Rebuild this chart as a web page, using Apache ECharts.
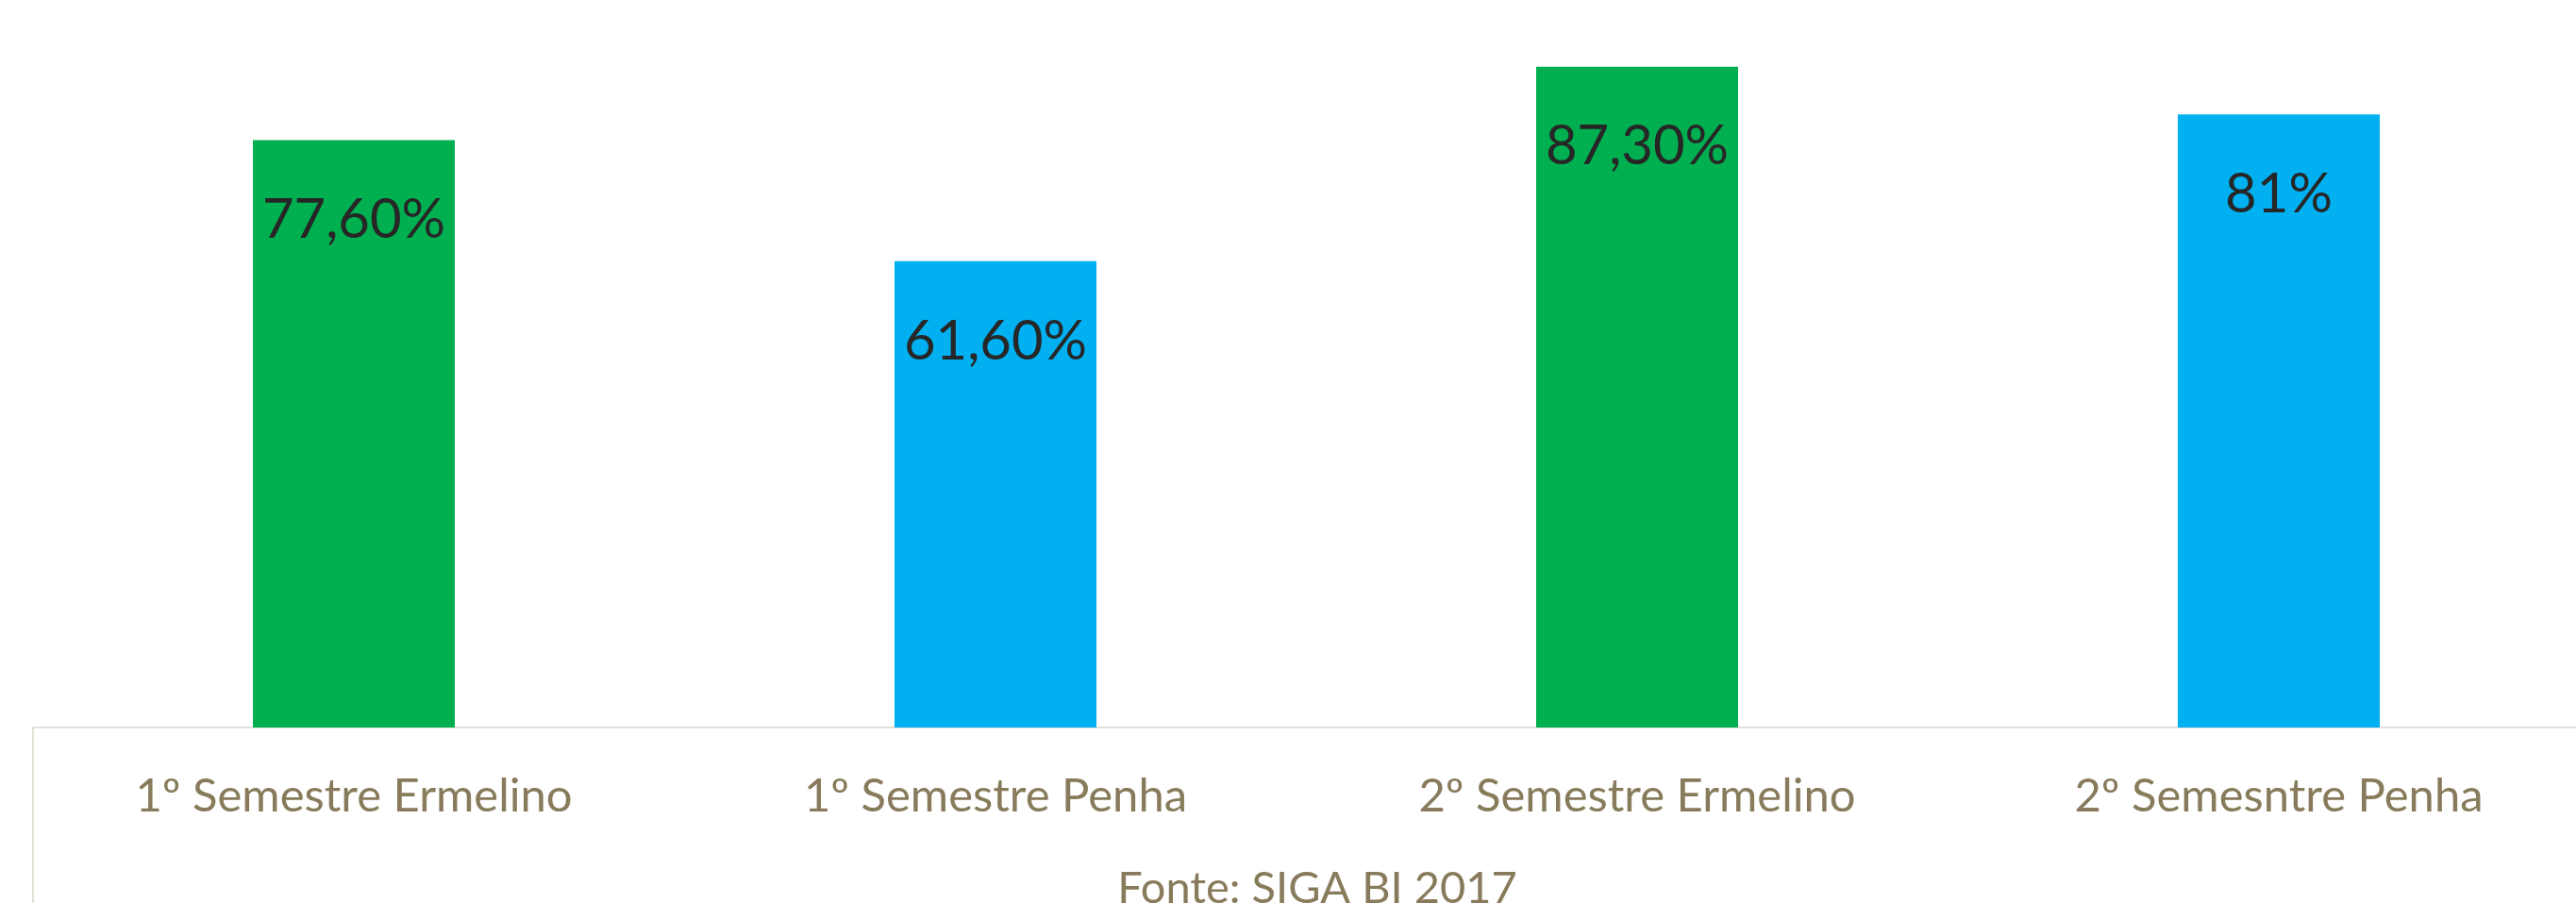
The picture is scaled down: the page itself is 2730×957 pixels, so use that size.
<!DOCTYPE html>
<html>
<head>
<meta charset="utf-8">
<script src="https://cdn.jsdelivr.net/npm/echarts@6/dist/echarts.min.js"></script>
<style>
html,body{margin:0;padding:0;background:#fff;}
#chart{width:2730px;height:957px;}
</style>
</head>
<body>
<div id="chart"></div>
<script>
const categories = ['1º Semestre Ermelino', '1º Semestre Penha', '2º Semestre Ermelino', '2º Semesntre Penha'];
const values = [77.6, 61.6, 87.3, 81];
const valueLabels = ['77,60%', '61,60%', '87,30%', '81%'];
const barColors = ['#00AF50', '#00B0F0', '#00AF50', '#00B0F0'];
const sourceNote = 'Fonte: SIGA BI 2017';

const chart = echarts.init(document.getElementById('chart'));
const font = 'Lato, "Open Sans", sans-serif';
chart.setOption({
  animation: false,
  grid: { left: 35, right: -25, top: 49, bottom: 186, containLabel: false, outerBoundsMode: 'none' },
  xAxis: {
    type: 'category',
    data: categories,
    axisLine: { show: true, lineStyle: { color: '#E4E0D8', width: 2 } },
    axisTick: { show: false },
    axisLabel: { color: '#887B5B', fontFamily: font, fontSize: 49, margin: 49, interval: 0 }
  },
  yAxis: {
    type: 'value', min: 0, max: 90,
    show: false,
    splitLine: { show: false }
  },
  series: [{
    type: 'bar',
    barWidth: 214,
    data: values.map((v, i) => ({ value: v, itemStyle: { color: barColors[i] } })),
    label: {
      show: true,
      position: 'insideTop',
      distance: 56,
      color: '#262626',
      fontFamily: font,
      fontSize: 58,
      formatter: p => valueLabels[p.dataIndex]
    }
  }],
  graphic: [
    { type: 'line', shape: { x1: 35, y1: 771, x2: 35, y2: 957 }, style: { stroke: '#E4E0D8', lineWidth: 2 } },
    { type: 'text', x: 1396, y: 918, style: { text: sourceNote, fill: '#887B5B', font: '47px ' + font, textAlign: 'center', textVerticalAlign: 'top' } }
  ]
});
</script>
</body>
</html>
